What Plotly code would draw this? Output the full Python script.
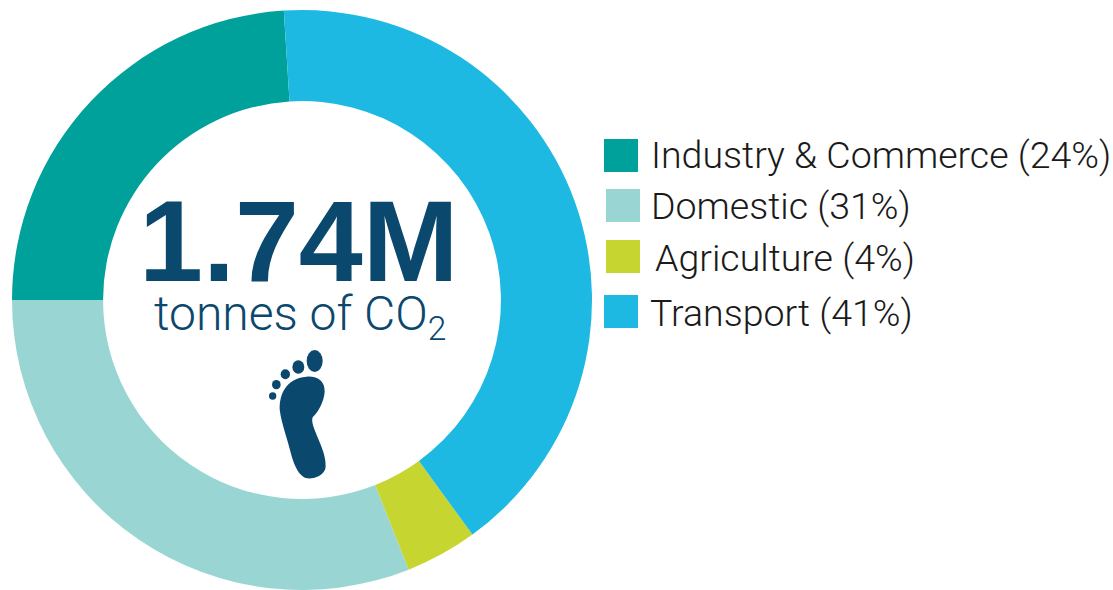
import plotly.graph_objects as go

categories = ["Industry & Commerce", "Domestic", "Agriculture", "Transport"]
shares = [24, 31, 4, 41]
colors = ["#00A19A", "#99D6D3", "#C6D530", "#1EB9E2"]
headline = "1.74M"
subline = "tonnes of CO<sub>2</sub>"

W, H = 1113, 590
NAVY = "#0B486E"
BOLD_FONT = "Liberation Sans"
LIGHT_FONT = "Roboto"


def px(x):
    return x / W


def py(y):
    return 1 - y / H


fig = go.Figure(
    go.Pie(
        labels=categories,
        values=shares,
        sort=False,
        direction="counterclockwise",
        rotation=270,
        hole=0.686,
        textinfo="none",
        marker=dict(colors=colors, line=dict(width=0)),
        domain=dict(x=[px(12), px(592)], y=[py(590), py(10)]),
        showlegend=False,
    )
)

# legend drawn by hand: the reference's rows are irregularly placed
swatch_boxes = [(604, 139, 638, 172), (606, 189, 640, 222), (606, 240, 640, 273), (604, 295, 638, 328)]
label_pos = [(649, 155), (649, 206), (653, 258), (648, 313)]
shapes = []
annotations = []
for cat, val, col, (x0, y0, x1, y1), (lx, ly) in zip(categories, shares, colors, swatch_boxes, label_pos):
    shapes.append(dict(type="rect", xref="paper", yref="paper", x0=px(x0), x1=px(x1), y0=py(y1), y1=py(y0),
                       fillcolor=col, line=dict(width=0)))
    annotations.append(dict(text=f"{cat} ({val}%)", x=px(lx), y=py(ly), xref="paper", yref="paper",
                            xanchor="left", yanchor="middle", showarrow=False,
                            font=dict(family=LIGHT_FONT, size=37.5, weight=300, color="#1A1A1A")))

annotations.append(dict(text=f"<b>{headline}</b>", x=px(299), y=py(241), xref="paper", yref="paper",
                        xanchor="center", yanchor="middle", showarrow=False,
                        font=dict(family=BOLD_FONT, size=115, color=NAVY)))
annotations.append(dict(text=subline, x=px(300), y=py(316), xref="paper", yref="paper",
                        xanchor="center", yanchor="middle", showarrow=False,
                        font=dict(family=LIGHT_FONT, size=48, weight=300, color=NAVY)))


# footprint icon
def fp(x, y):
    return f"{px(130 + x / 3):.5f},{py(180 + y / 3):.5f}"


sole = ("M" + fp(530, 590)
        + " C" + fp(565, 588) + " " + fp(585, 605) + " " + fp(584, 635)
        + " C" + fp(582, 665) + " " + fp(565, 695) + " " + fp(548, 712)
        + " C" + fp(543, 725) + " " + fp(552, 745) + " " + fp(562, 770)
        + " C" + fp(575, 800) + " " + fp(588, 830) + " " + fp(587, 860)
        + " C" + fp(585, 885) + " " + fp(555, 897) + " " + fp(532, 895)
        + " C" + fp(505, 890) + " " + fp(490, 850) + " " + fp(480, 810)
        + " C" + fp(470, 770) + " " + fp(455, 730) + " " + fp(450, 695)
        + " C" + fp(445, 650) + " " + fp(465, 595) + " " + fp(530, 590) + " Z")
shapes.append(dict(type="path", xref="paper", yref="paper", path=sole, fillcolor=NAVY, line=dict(width=0)))
toes = [(554, 543, 24, 33), (505, 561, 18, 20), (466, 583, 14, 15), (439, 614, 13, 14), (428, 648, 11, 11)]
for cx, cy, rx, ry in toes:
    shapes.append(dict(type="circle", xref="paper", yref="paper",
                       x0=px(130 + (cx - rx) / 3), x1=px(130 + (cx + rx) / 3),
                       y0=py(180 + (cy + ry) / 3), y1=py(180 + (cy - ry) / 3),
                       fillcolor=NAVY, line=dict(width=0)))

fig.update_layout(
    width=W, height=H, margin=dict(l=0, r=0, t=0, b=0),
    paper_bgcolor="white", plot_bgcolor="white",
    shapes=shapes, annotations=annotations,
)
fig.write_html("out.html", config=dict(displayModeBar=False),
               post_script="document.body.style.margin='0';document.body.style.overflow='hidden';")
